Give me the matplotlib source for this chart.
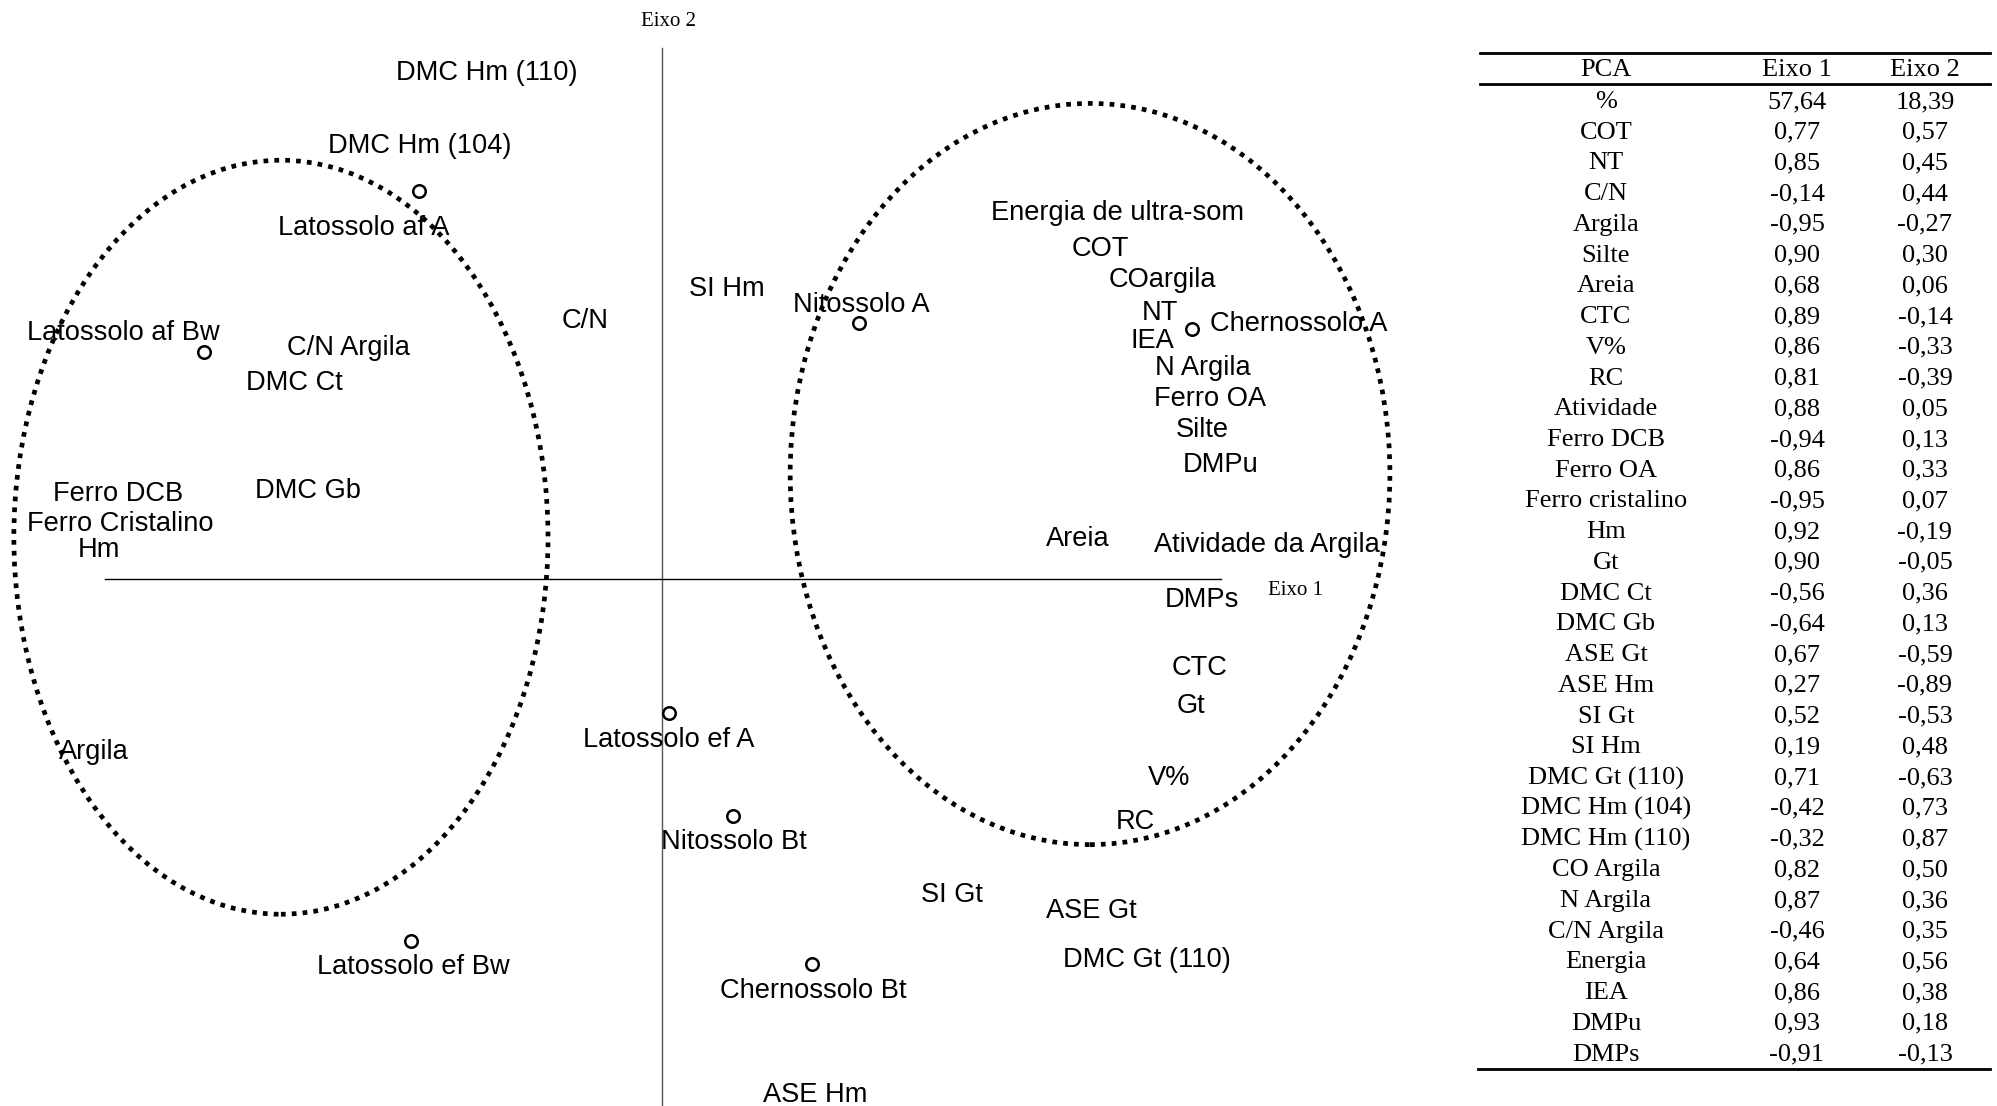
import numpy as np
import matplotlib.pyplot as plt
from matplotlib.patches import Ellipse
from matplotlib.transforms import offset_copy

# --- biplot: label positions (Eixo 1, Eixo 2) ---
labels = ["DMC Hm (110)", "DMC Hm (104)", "Latossolo af A", "Latossolo af Bw",
          "C/N Argila", "DMC Ct", "C/N", "Ferro DCB", "Ferro Cristalino", "Hm",
          "DMC Gb", "Argila", "Latossolo ef Bw", "Latossolo ef A", "Nitossolo Bt",
          "Chernossolo Bt", "ASE Hm", "SI Gt", "ASE Gt", "DMC Gt (110)", "RC",
          "V%", "Gt", "CTC", "DMPs", "Areia", "Atividade da Argila", "DMPu",
          "Silte", "Ferro OA", "N Argila", "IEA", "NT", "Chernossolo A",
          "COargila", "COT", "Energia de ultra-som", "Nitossolo A", "SI Hm"]
label_x = [-0.302, -0.417, -0.514, -0.929, -0.541, -0.633, -0.133, -0.938, -0.934,
           -0.971, -0.610, -0.979, -0.429, 0.012, 0.124, 0.260, 0.264, 0.500,
           0.741, 0.836, 0.817, 0.874, 0.912, 0.926, 0.931, 0.717, 1.043, 0.964,
           0.931, 0.945, 0.933, 0.845, 0.859, 1.097, 0.862, 0.755, 0.786, 0.343,
           0.112]
label_y = [0.878, 0.752, 0.610, 0.429, 0.403, 0.343, 0.450, 0.152, 0.100, 0.055,
           0.157, -0.293, -0.664, -0.272, -0.448, -0.705, -0.884, -0.540, -0.567,
           -0.652, -0.414, -0.338, -0.214, -0.148, -0.031, 0.074, 0.064, 0.202,
           0.262, 0.316, 0.369, 0.416, 0.464, 0.445, 0.521, 0.574, 0.636, 0.478,
           0.505]

# soil samples (open circles)
sample_x = [-0.419, -0.790, -0.433, 0.012, 0.122, 0.259, 0.340, 0.914]
sample_y = [0.669, 0.391, -0.624, -0.231, -0.409, -0.664, 0.441, 0.431]

# --- table ---
pca_vars = ["%", "COT", "NT", "C/N", "Argila", "Silte", "Areia", "CTC", "V%", "RC",
            "Atividade", "Ferro DCB", "Ferro OA", "Ferro cristalino", "Hm", "Gt",
            "DMC Ct", "DMC Gb", "ASE Gt", "ASE Hm", "SI Gt", "SI Hm",
            "DMC Gt (110)", "DMC Hm (104)", "DMC Hm (110)", "CO Argila",
            "N Argila", "C/N Argila", "Energia", "IEA", "DMPu", "DMPs"]
eixo1 = ["57,64", "0,77", "0,85", "-0,14", "-0,95", "0,90", "0,68", "0,89", "0,86",
         "0,81", "0,88", "-0,94", "0,86", "-0,95", "0,92", "0,90", "-0,56", "-0,64",
         "0,67", "0,27", "0,52", "0,19", "0,71", "-0,42", "-0,32", "0,82", "0,87",
         "-0,46", "0,64", "0,86", "0,93", "-0,91"]
eixo2 = ["18,39", "0,57", "0,45", "0,44", "-0,27", "0,30", "0,06", "-0,14", "-0,33",
         "-0,39", "0,05", "0,13", "0,33", "0,07", "-0,19", "-0,05", "0,36", "0,13",
         "-0,59", "-0,89", "-0,53", "0,48", "-0,63", "0,73", "0,87", "0,50", "0,36",
         "0,35", "0,56", "0,38", "0,18", "-0,13"]

W, H = 1997, 1106
ox, oy, scale = 662, 579, 580.0   # origin pixel and pixels per unit

fig = plt.figure(figsize=(W / 100, H / 100), dpi=100)
ax = fig.add_axes([0, 0, 1, 1])
ax.set_xlim(-ox / scale, (W - ox) / scale)
ax.set_ylim((oy - H) / scale, oy / scale)
ax.axis("off")

sans = "Liberation Sans"
serif = "Liberation Serif"
# text boxes sit a bit high with va="center", nudge them down
txt_tr = offset_copy(ax.transData, fig=fig, x=0, y=-2.2, units="points")

# axes lines
ax.plot([0, 0], [-2, 0.9155], color="#555555", lw=1.0)
ax.plot([-0.960, 0.964], [0, 0], color="black", lw=1.0)
ax.text(0.012, 0.966, "Eixo 2", family=serif, fontsize=15, ha="center",
        va="center", transform=txt_tr)
ax.text(1.093, -0.015, "Eixo 1", family=serif, fontsize=15, ha="center",
        va="center", transform=txt_tr)

# dotted group ellipses
for cx, cy, w, h in [(-0.657, 0.072, 0.921, 1.300), (0.738, 0.181, 1.034, 1.278)]:
    e = Ellipse((cx, cy), w, h, fill=False, ec="black", lw=3.4,
                linestyle=(0, (1, 1.3)))
    ax.add_patch(e)

ax.plot(sample_x, sample_y, "o", ms=9, mfc="white", mec="black", mew=1.8,
        linestyle="none", zorder=3)

for name, x, y in zip(labels, label_x, label_y):
    ax.text(x, y, name, family=sans, fontsize=19.6, ha="center", va="center",
            transform=txt_tr, zorder=4)

# table in pixel coordinates
tb = fig.add_axes([0, 0, 1, 1], facecolor="none")
tb.set_xlim(0, W)
tb.set_ylim(H, 0)
tb.axis("off")
col_x = [1606, 1797, 1925]
tb.plot([1480, 1990], [53, 53], color="black", lw=2.0)
tb.plot([1480, 1990], [84, 84], color="black", lw=2.0)
tb.plot([1478, 1990], [1069, 1069], color="black", lw=2.0)
for cx, head in zip(col_x, ["PCA", "Eixo 1", "Eixo 2"]):
    tb.text(cx, 70.5, head, family=serif, fontsize=19, ha="center", va="center")
row_h = 30.73
for i, (v, a, b) in enumerate(zip(pca_vars, eixo1, eixo2)):
    y = 102.0 + i * row_h
    for cx, s in zip(col_x, [v, a, b]):
        tb.text(cx, y, s, family=serif, fontsize=19, ha="center", va="center")

fig.savefig("out.png", dpi=100)
